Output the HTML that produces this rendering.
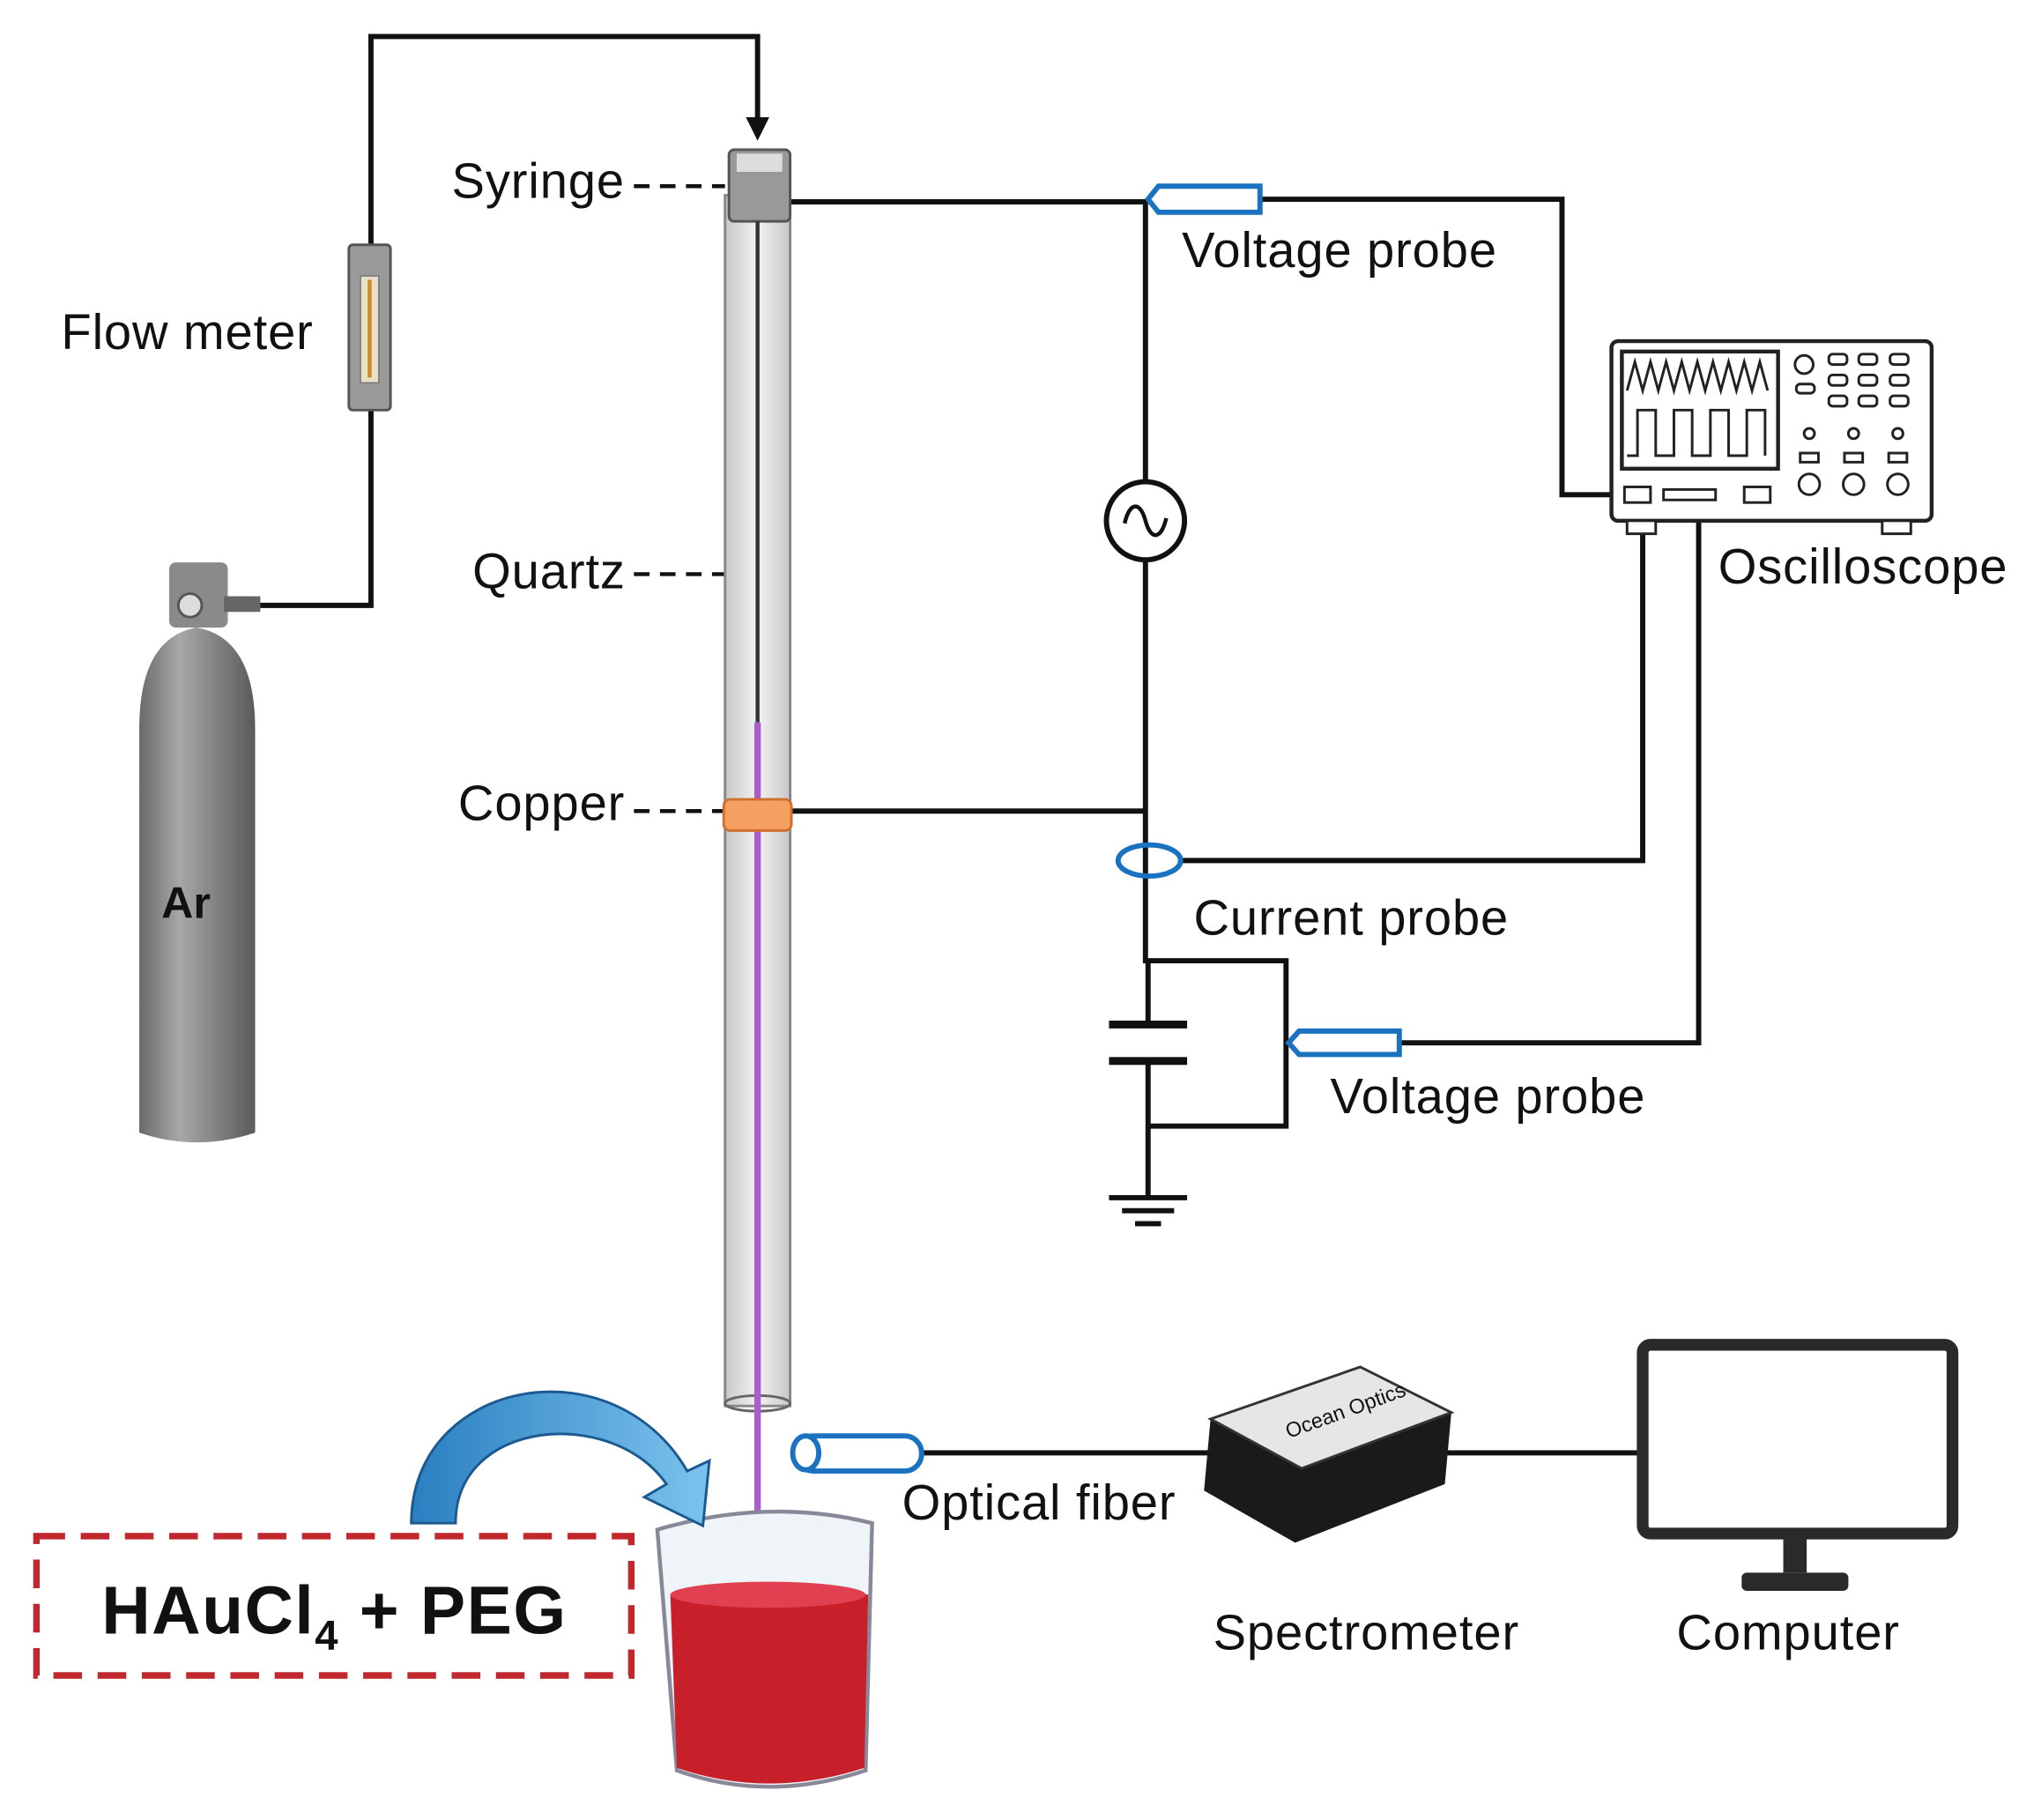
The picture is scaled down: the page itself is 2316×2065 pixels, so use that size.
<!DOCTYPE html>
<html><head><meta charset="utf-8"><style>
html,body{margin:0;padding:0;background:#fff;}
svg{display:block;}
text{font-family:"Liberation Sans",sans-serif;fill:#111;}
</style></head><body>
<svg width="2316" height="2065" viewBox="0 0 1568 1398" xmlns="http://www.w3.org/2000/svg">
<defs>
<linearGradient id="cyl" x1="0" x2="1"><stop offset="0" stop-color="#6a6a6a"/><stop offset="0.35" stop-color="#a8a8a8"/><stop offset="1" stop-color="#5a5a5a"/></linearGradient>
<linearGradient id="tube" x1="0" x2="1"><stop offset="0" stop-color="#c8c8c8"/><stop offset="0.5" stop-color="#f2f2f2"/><stop offset="1" stop-color="#c8c8c8"/></linearGradient>
<linearGradient id="blu" x1="0" x2="1"><stop offset="0" stop-color="#2a7fc0"/><stop offset="1" stop-color="#7cc3ee"/></linearGradient>
</defs>
<g fill="none" stroke="#111" stroke-width="4">
<polyline points="285,188 285,28 582,28 582,98"/>
<polyline points="285,315 285,465 195,465"/>
<polyline points="607,155 882,155"/>
<polyline points="968,153 1200,153 1200,380 1250,380"/>
<line x1="880" y1="155" x2="880" y2="370"/>
<line x1="880" y1="430" x2="880" y2="740"/>
<line x1="607" y1="623" x2="880" y2="623"/>
<polyline points="907,661 1262,661 1262,385"/>
<polyline points="1075,801 1305,801 1305,385"/>
<polyline points="880,738 988,738 988,865 882,865"/>
<line x1="882" y1="738" x2="882" y2="787"/>
<line x1="882" y1="815" x2="882" y2="920"/>
<line x1="852" y1="787" x2="912" y2="787" stroke-width="6"/>
<line x1="852" y1="815" x2="912" y2="815" stroke-width="6"/>
<line x1="852" y1="920" x2="912" y2="920"/>
<line x1="862" y1="930" x2="902" y2="930"/>
<line x1="872" y1="940" x2="892" y2="940"/>
<line x1="708" y1="1116" x2="935" y2="1116"/>
<line x1="1110" y1="1116" x2="1262" y2="1116"/>
<g stroke-dasharray="12,8" stroke-width="3">
<line x1="487" y1="143" x2="557" y2="143"/>
<line x1="487" y1="441" x2="557" y2="441"/>
<line x1="487" y1="623" x2="557" y2="623"/>
</g>
<circle cx="880" cy="400" r="30" stroke-width="4"/>
<path d="M864,402 C868,385 876,385 880,400 C884,415 892,415 896,398" stroke-width="3"/>
</g>
<polygon points="573,90 591,90 582,108" fill="#111"/>
<rect x="268" y="188" width="32" height="127" rx="3" fill="#9a9a9a" stroke="#555" stroke-width="2"/>
<rect x="277" y="212" width="14" height="82" fill="#e8e0c8" stroke="#777"/>
<line x1="284" y1="215" x2="284" y2="290" stroke="#d08a20" stroke-width="3"/>
<rect x="130" y="432" width="45" height="50" rx="5" fill="#8a8a8a"/>
<circle cx="146" cy="465" r="9" fill="#ddd" stroke="#555" stroke-width="2"/>
<rect x="172" y="458" width="28" height="12" fill="#666"/>
<path d="M107,560 Q107,490 151,482 Q196,490 196,560 L196,870 Q151,885 107,870 Z" fill="url(#cyl)"/>
<text x="124" y="705" font-size="34" font-weight="bold">Ar</text>
<rect x="557" y="150" width="50" height="930" fill="url(#tube)" stroke="#888" stroke-width="2"/>
<ellipse cx="582" cy="1078" rx="25" ry="6" fill="none" stroke="#666" stroke-width="2"/>
<rect x="560" y="115" width="47" height="55" rx="4" fill="#999" stroke="#555" stroke-width="2"/>
<rect x="566" y="118" width="35" height="14" fill="#ddd"/>
<line x1="582" y1="170" x2="582" y2="555" stroke="#333" stroke-width="3"/>
<line x1="582" y1="555" x2="582" y2="1205" stroke="#a860c8" stroke-width="5"/>
<rect x="556" y="614" width="52" height="24" rx="5" fill="#f5a060" stroke="#d07030" stroke-width="2"/>
<path d="M890,143 L968,143 L968,163 L890,163 L882,153 Z" fill="#fff" stroke="#1a72c0" stroke-width="4"/>
<path d="M998,792 L1075,792 L1075,810 L998,810 L990,801 Z" fill="#fff" stroke="#1a72c0" stroke-width="4"/>
<ellipse cx="883" cy="661" rx="24" ry="12" fill="none" stroke="#1a72c0" stroke-width="4"/>
<rect x="1238" y="262" width="246" height="138" rx="5" fill="#fff" stroke="#222" stroke-width="3"/>
<rect x="1246" y="270" width="120" height="90" fill="#fff" stroke="#222" stroke-width="3"/>
<polyline points="1250,300 1256,278 1262,300 1268,278 1274,300 1280,278 1286,300 1292,278 1298,300 1304,278 1310,300 1316,278 1322,300 1328,278 1334,300 1340,278 1346,300 1352,278 1358,300" fill="none" stroke="#222" stroke-width="2"/>
<polyline points="1250,350 1258,350 1258,315 1272,315 1272,350 1286,350 1286,315 1300,315 1300,350 1314,350 1314,315 1328,315 1328,350 1342,350 1342,315 1356,315 1356,350" fill="none" stroke="#222" stroke-width="2"/>
<g fill="none" stroke="#222" stroke-width="2">
<circle cx="1386" cy="280" r="7"/><rect x="1405" y="272" width="14" height="8" rx="3"/><rect x="1428" y="272" width="14" height="8" rx="3"/><rect x="1452" y="272" width="14" height="8" rx="3"/>
<rect x="1380" y="295" width="14" height="7" rx="3"/><rect x="1405" y="288" width="14" height="8" rx="3"/><rect x="1428" y="288" width="14" height="8" rx="3"/><rect x="1452" y="288" width="14" height="8" rx="3"/>
<rect x="1405" y="304" width="14" height="8" rx="3"/><rect x="1428" y="304" width="14" height="8" rx="3"/><rect x="1452" y="304" width="14" height="8" rx="3"/>
<circle cx="1390" cy="333" r="4"/><circle cx="1424" cy="333" r="4"/><circle cx="1458" cy="333" r="4"/>
<rect x="1383" y="348" width="14" height="7"/><rect x="1417" y="348" width="14" height="7"/><rect x="1451" y="348" width="14" height="7"/>
<circle cx="1390" cy="372" r="8"/><circle cx="1424" cy="372" r="8"/><circle cx="1458" cy="372" r="8"/>
<rect x="1248" y="374" width="20" height="12"/><rect x="1278" y="376" width="40" height="8"/><rect x="1340" y="374" width="20" height="12"/>
</g>
<rect x="1250" y="400" width="22" height="10" fill="#fff" stroke="#222" stroke-width="2"/>
<rect x="1446" y="400" width="22" height="10" fill="#fff" stroke="#222" stroke-width="2"/>
<rect x="612" y="1103" width="96" height="27" rx="13" fill="#fff" stroke="#1a72c0" stroke-width="4"/>
<ellipse cx="619" cy="1116" rx="10" ry="13" fill="#fff" stroke="#1a72c0" stroke-width="4"/>
<polygon points="930,1090 1045,1050 1115,1085 1110,1140 995,1185 925,1145" fill="#1a1a1a"/>
<polygon points="930,1090 1045,1050 1115,1085 1000,1128" fill="#e6e6e6" stroke="#333" stroke-width="2"/>
<text x="990" y="1105" font-size="16" fill="#333" transform="rotate(-20 990 1105)">Ocean Optics</text>
<rect x="1262" y="1033" width="238" height="145" rx="6" fill="#fff" stroke="#2a2a2a" stroke-width="9"/>
<rect x="1370" y="1178" width="18" height="30" fill="#2a2a2a"/>
<rect x="1338" y="1208" width="82" height="14" rx="4" fill="#2a2a2a"/>
<path d="M505,1175 Q590,1150 670,1170 L665,1360 Q590,1385 520,1360 Z" fill="#eef4f8" stroke="#889" stroke-width="3"/>
<path d="M515,1225 Q590,1210 667,1225 L664,1358 Q590,1382 520,1358 Z" fill="#c8202a"/>
<ellipse cx="590" cy="1225" rx="75" ry="10" fill="#e04050"/>
<path d="M316,1170 C316,1060 470,1030 528,1130 L545,1122 L540,1172 L495,1150 L512,1140 C470,1080 350,1090 350,1170 Z" fill="url(#blu)" stroke="#1a5a90" stroke-width="2"/>
<rect x="28" y="1180" width="457" height="107" fill="none" stroke="#c0282d" stroke-width="5" stroke-dasharray="22,12"/>
<text x="78" y="1255" font-size="52" font-weight="bold" letter-spacing="1">HAuCl<tspan font-size="32" dy="12">4</tspan><tspan dy="-12"> + PEG</tspan></text>
<g font-size="38" letter-spacing="0.6">
<text x="347" y="152">Syringe</text>
<text x="363" y="452">Quartz</text>
<text x="352" y="630">Copper</text>
<text x="47" y="268">Flow meter</text>
<text x="908" y="205">Voltage probe</text>
<text x="1320" y="448">Oscilloscope</text>
<text x="917" y="718">Current probe</text>
<text x="1022" y="855">Voltage probe</text>
<text x="693" y="1167">Optical fiber</text>
<text x="932" y="1267">Spectrometer</text>
<text x="1288" y="1267">Computer</text>
</g>
</svg>
</body></html>
